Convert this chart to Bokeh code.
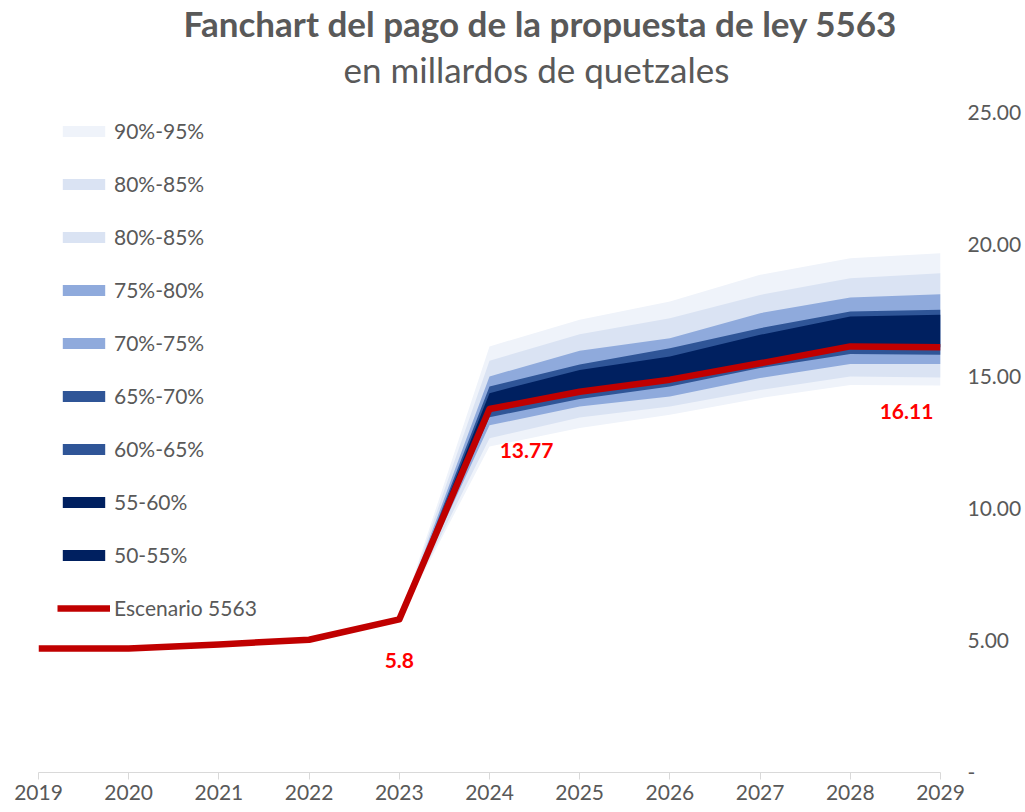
from bokeh.plotting import figure
from bokeh.models import (Range1d, Title, Legend, LegendItem, CustomJSTickFormatter,
                          FixedTicker, ColumnDataSource)
from bokeh.embed import file_html
from bokeh.resources import INLINE
from bokeh.core.properties import value

# ---------------- data ----------------
years = [2019, 2020, 2021, 2022, 2023, 2024, 2025, 2026, 2027, 2028, 2029]
escenario = [4.70, 4.70, 4.85, 5.03, 5.80, 13.77, 14.42, 14.88, 15.50, 16.14, 16.11]

fan_years = [2023, 2024, 2025, 2026, 2027, 2028, 2029]
u95 = [5.80, 16.14, 17.15, 17.84, 18.85, 19.48, 19.67]
u85 = [5.80, 15.60, 16.60, 17.21, 18.09, 18.72, 18.91]
u80 = [5.80, 15.00, 15.98, 16.45, 17.40, 17.99, 18.12]
u70 = [5.80, 14.62, 15.45, 16.07, 16.83, 17.46, 17.53]
u60 = [5.80, 14.37, 15.25, 15.76, 16.58, 17.27, 17.34]
l70 = [5.80, 13.46, 14.15, 14.62, 15.32, 15.85, 15.82]
l80 = [5.80, 13.15, 13.86, 14.24, 14.94, 15.47, 15.47]
l85 = [5.80, 12.66, 13.45, 13.86, 14.49, 15.00, 14.96]
l95 = [5.80, 12.35, 13.05, 13.55, 14.18, 14.68, 14.66]

label_years = [2023, 2024, 2029]
label_values = [5.8, 13.77, 16.11]
label_texts = ["5.8", "13.77", "16.11"]

legend_labels = ["90%-95%", "80%-85%", "80%-85%", "75%-80%", "70%-75%",
                 "65%-70%", "60%-65%", "55-60%", "50-55%", "Escenario 5563"]

# ---------------- styles ----------------
FONT = "Lato"
GREY = "#595959"
C95, C85, C80, C70, C60 = "#EFF3FA", "#DAE3F3", "#8FAADC", "#2F5597", "#002060"

p = figure(frame_width=902, frame_height=660,
           x_range=Range1d(2019, 2029), y_range=Range1d(0, 25),
           y_axis_location="right", output_backend="svg", toolbar_location=None,
           min_border_left=38, min_border_right=10, min_border_top=0, min_border_bottom=0)
p.outline_line_color = None
p.grid.visible = False
p.background_fill_color = "white"
p.border_fill_color = "white"

center = escenario[4:]
r95 = p.varea(x=fan_years, y1=l95, y2=u95, fill_color=C95)
r85 = p.varea(x=fan_years, y1=l85, y2=u85, fill_color=C85)
r80 = p.varea(x=fan_years, y1=l80, y2=u80, fill_color=C80)
r70 = p.varea(x=fan_years, y1=l70, y2=u70, fill_color=C70)
r60 = p.varea(x=fan_years, y1=center, y2=u60, fill_color=C60)

rl = p.line(x=years, y=escenario, line_color="#C00000", line_width=6.5, line_join="round")

src = ColumnDataSource(dict(x=label_years, y=label_values, t=label_texts,
                            xo=[0, 37, -34], yo=[41, 42, 64]))
p.text(x="x", y="y", text="t", x_offset="xo", y_offset="yo", source=src,
       text_color="#FF0000", text_font=value(FONT), text_font_style="bold",
       text_font_size="21px", text_align="center", text_baseline="middle")

# axes
xa = p.xaxis[0]
xa.ticker = FixedTicker(ticks=years)
xa.axis_line_color = "#D9D9D9"
xa.major_tick_line_color = "#D9D9D9"
xa.major_tick_out = 7
xa.major_tick_in = 0
xa.minor_tick_line_color = None
xa.major_label_text_font = FONT
xa.major_label_text_font_size = "21px"
xa.major_label_text_color = GREY
xa.major_label_standoff = 5

ya = p.yaxis[0]
ya.ticker = FixedTicker(ticks=[0, 5, 10, 15, 20, 25])
ya.formatter = CustomJSTickFormatter(code="return tick == 0 ? '-' : tick.toFixed(2);")
ya.axis_line_color = None
ya.major_tick_line_color = None
ya.minor_tick_line_color = None
ya.major_tick_out = 0
ya.major_tick_in = 0
ya.minor_tick_out = 0
ya.minor_tick_in = 0
ya.major_label_text_font = FONT
ya.major_label_text_font_size = "21px"
ya.major_label_text_color = GREY
ya.major_label_standoff = 27

# legend
rends = [r95, r85, r85, r80, r80, r70, r70, r60, r60, rl]
items = [LegendItem(label=lab, renderers=[r]) for lab, r in zip(legend_labels, rends)]
leg = Legend(items=items, location=(19, 152), margin=0, padding=0,
             glyph_width=53, glyph_height=14, label_height=25, spacing=28,
             label_standoff=4, label_text_font=FONT, label_text_font_size="21px",
             label_text_color=GREY, background_fill_alpha=0, border_line_color=None)
p.add_layout(leg)

# titles (a blank spacer title sits between the subtitle and the plot)
p.add_layout(Title(text=" ", text_font=FONT, text_font_size="10px", standoff=6), "above")
p.add_layout(Title(text="en millardos de quetzales", align="left", offset=305,
                   text_font=FONT, text_font_size="35px", text_font_style="normal",
                   text_color=GREY, standoff=6), "above")
p.add_layout(Title(text="Fanchart del pago de la propuesta de ley 5563", align="left",
                   offset=145, text_font=FONT, text_font_size="35px", text_font_style="bold",
                   text_color=GREY, standoff=-2, text_line_height=1.16), "above")

open("out.html", "w").write(file_html(p, INLINE))
